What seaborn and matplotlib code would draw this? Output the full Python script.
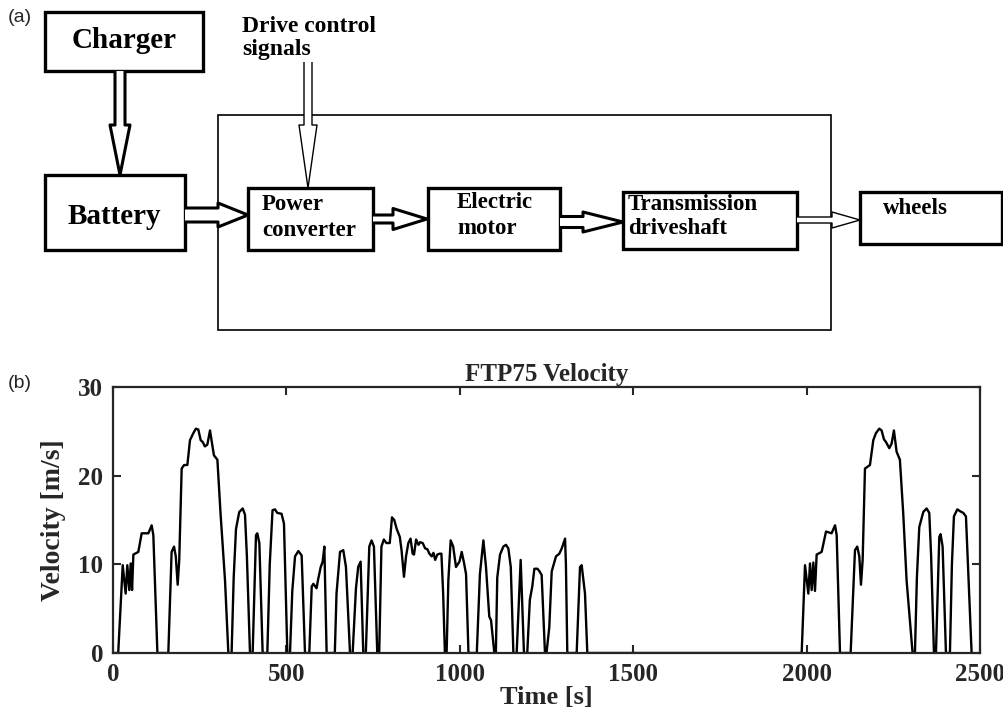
import numpy as np
import pandas as pd
import seaborn as sns
import matplotlib.pyplot as plt
from matplotlib.patches import Rectangle, Polygon

# FTP75 velocity trace (time [s], velocity [m/s])
cold_t = [0, 15, 28, 36.5, 41.3, 47, 51, 55, 58.7, 73, 82.7, 102, 111.5, 116.3, 128,
          159.5, 169, 176, 181, 186.5, 191, 198, 205, 214.4, 222, 231.7, 239, 246, 252.8,
          258.6, 265, 272, 279.7, 287.4, 291, 301, 310, 323, 332.6,
          342, 348, 354.7, 364, 374, 380.6, 386, 395,
          402.7, 412.3, 416, 422, 431.5,
          445, 452, 460, 467, 473.7, 486, 493, 502.7]
cold_v = [0, 0, 9.9, 6.7, 9.9, 7.1, 10.1, 7.1, 11.1, 11.4, 13.5, 13.5, 14.4, 13.3, 0,
          0, 11.4, 12.0, 10.9, 7.7, 10.5, 20.8, 21.2, 21.2, 24.0, 24.8, 25.3, 25.2, 24.0,
          23.8, 23.3, 23.5, 25.1, 23.2, 22.3, 21.8, 15.8, 8.2, 0,
          0, 8.5, 14.0, 15.9, 16.3, 15.6, 11.0, 0,
          0, 13.3, 13.5, 12.4, 0,
          0, 10.0, 16.1, 16.2, 15.8, 15.7, 14.6, 0]

stab_t = [510.4, 517, 524.9, 534.5, 544, 553.6,
          566, 573, 577.7, 587, 592, 599, 604.6, 609.4, 616,
          639.6, 644.5, 654.6, 664, 671.7, 683.4,
          691, 700.6, 707, 714, 721.7,
          729, 739, 745.6, 752.4, 762,
          767.6, 774, 781, 788.3, 798, 804.5, 811, 818, 827, 832, 839, 845, 851.6, 858,
          864, 868, 874, 881, 885.6, 893, 900, 906.6, 912.3, 919, 924, 929, 935, 942,
          947, 952, 957,
          962, 967, 973.7, 981, 989, 999, 1005.5, 1012, 1018, 1025,
          1049, 1058, 1068, 1075.5, 1085, 1090, 1099.6,
          1104, 1108, 1116, 1125.5, 1133, 1140, 1147, 1154.5,
          1164, 1175.5, 1181, 1185,
          1194.5, 1202, 1209, 1215, 1224, 1230, 1236, 1245.6,
          1250, 1258, 1265, 1277.4, 1287, 1294, 1303.5, 1306, 1310,
          1337, 1346.6, 1351.4, 1361, 1367.7]
stab_v = [0, 7.0, 10.9, 11.5, 11.0, 0,
          0, 7.5, 7.8, 7.3, 8.4, 9.7, 10.3, 12.0, 0,
          0, 6.7, 11.4, 11.6, 9.7, 0,
          0, 7.3, 9.7, 10.3, 0,
          0, 12.0, 12.7, 12.0, 0,
          0, 12.0, 12.8, 12.4, 12.4, 15.3, 15.0, 14.0, 13.1, 11.6, 8.6, 10.9, 12.4, 12.9,
          11.2, 11.1, 12.8, 12.2, 12.5, 12.4, 11.8, 11.7, 11.2, 10.9, 11.3, 10.5, 11.1, 11.2,
          11.2, 6.7, 0,
          0, 8.2, 12.7, 12.0, 9.7, 10.3, 11.4, 10.2, 8.9, 0,
          0, 8.9, 12.7, 9.7, 4.1, 3.7, 0,
          0, 8.5, 11.1, 12.0, 12.2, 11.8, 9.7, 0,
          0, 10.5, 4.5, 0,
          0, 6.0, 7.5, 9.5, 9.5, 9.2, 8.8, 0,
          0, 2.9, 9.2, 10.9, 11.2, 11.8, 12.9, 10.0, 0,
          0, 9.7, 9.9, 6.7, 0]

hot_t = [1985.8, 1995.4, 2005, 2009.8, 2014.6, 2019.4, 2024.2, 2029, 2043.4, 2056, 2072,
         2082, 2086.7, 2096.3,
         2127, 2139.5, 2146, 2152, 2156.8, 2161.6, 2168.3, 2182.7, 2192.3, 2200, 2209.6,
         2216.3, 2223, 2228.8, 2238.4, 2245, 2251.8, 2259.5, 2269, 2278.7, 2288.3, 2305.6,
         2312.4, 2318, 2324.9, 2336.4, 2346, 2353.7, 2359, 2367.2,
         2373, 2382.6, 2386.4, 2392.2, 2401.8,
         2413.3, 2419, 2424.8, 2434.5, 2442.2, 2451.8, 2459.5, 2475.8]
hot_v = [0, 9.9, 6.7, 10.1, 7.1, 10.2, 7.0, 11.1, 11.4, 13.7, 13.5,
         14.4, 13.3, 0,
         0, 11.6, 12.0, 10.9, 7.7, 10.5, 20.8, 21.2, 24.0, 24.8, 25.3,
         25.1, 24.1, 23.8, 23.1, 23.6, 25.1, 22.7, 21.8, 15.7, 8.2, 0,
         0, 8.5, 14.2, 15.9, 16.3, 15.8, 11.0, 0,
         0, 13.1, 13.4, 12.0, 0,
         0, 10.0, 15.4, 16.2, 16.0, 15.8, 15.4, 0]

x_ticks = [0, 500, 1000, 1500, 2000, 2500]
y_ticks = [0, 10, 20, 30]

df = pd.DataFrame({"time": cold_t + stab_t + hot_t,
                   "velocity": cold_v + stab_v + hot_v})

sns.set_style("ticks")
plt.rcParams["font.family"] = ["Liberation Serif", "DejaVu Serif"]

fig = plt.figure(figsize=(10.04, 7.11), dpi=100)

# ---- (a) block diagram, drawn in pixel coordinates ----
ad = fig.add_axes([0, 0, 1, 1])
ad.set_xlim(0, 1004)
ad.set_ylim(711, 0)
ad.axis("off")

def box(x0, y0, x1, y1, lw=2.4):
    ad.add_patch(Rectangle((x0, y0), x1 - x0, y1 - y0, fill=False, ec="black", lw=lw))

def harrow(x0, xh, x1, yc, w, hw, lw):
    pts = [(x0, yc - w), (xh, yc - w), (xh, yc - hw), (x1, yc),
           (xh, yc + hw), (xh, yc + w), (x0, yc + w)]
    ad.add_patch(Polygon(pts, closed=False, fc="white", ec="black", lw=lw, joinstyle="round"))

def varrow(y0, yh, y1, xc, w, hw, lw):
    pts = [(xc - w, y0), (xc - w, yh), (xc - hw, yh), (xc, y1),
           (xc + hw, yh), (xc + w, yh), (xc + w, y0)]
    ad.add_patch(Polygon(pts, closed=False, fc="white", ec="black", lw=lw, joinstyle="round"))

ad.add_patch(Rectangle((218, 115), 831 - 218, 330 - 115, fill=False, ec="black", lw=1.2))

box(45, 12, 203, 71)
box(45, 175, 185, 250)
box(248, 188, 373, 250)
box(428, 188, 560, 250)
box(623, 192, 797, 249)
box(860, 192, 1002, 244)

varrow(71, 125, 175, 120, 5, 10, 2.2)
varrow(62, 125, 188, 308, 4, 9, 1.0)
harrow(185, 218, 248, 215, 7, 12, 2.2)
harrow(373, 393, 427, 219, 4, 10.5, 2.2)
harrow(560, 583, 623, 222, 5.5, 10, 2.2)
harrow(797, 832, 860, 220, 3, 8, 1.0)

bold = dict(fontweight="bold", color="black")
ad.text(124, 41, "Charger", fontsize=21, ha="center", va="center", **bold)
ad.text(114, 216, "Battery", fontsize=21, ha="center", va="center", **bold)
ad.text(242, 27, "Drive control", fontsize=17, ha="left", va="center", **bold)
ad.text(242, 50, "signals", fontsize=17, ha="left", va="center", **bold)
ad.text(262, 205, "Power", fontsize=16.5, ha="left", va="center", **bold)
ad.text(262, 230, "converter", fontsize=16.5, ha="left", va="center", **bold)
ad.text(457, 203, "Electric", fontsize=16.5, ha="left", va="center", **bold)
ad.text(457, 228, "motor", fontsize=16.5, ha="left", va="center", **bold)
ad.text(628, 205, "Transmission", fontsize=16.5, ha="left", va="center", **bold)
ad.text(628, 228, "driveshaft", fontsize=16.5, ha="left", va="center", **bold)
ad.text(883, 208, "wheels", fontsize=16.5, ha="left", va="center", **bold)

ad.text(8, 18, "(a)", fontsize=14, ha="left", va="center", family="Liberation Sans")
ad.text(8, 383, "(b)", fontsize=14, ha="left", va="center", family="Liberation Sans")

# ---- (b) FTP75 velocity ----
ax = fig.add_axes([113 / 1004, 1 - 653 / 711, (980 - 113) / 1004, (653 - 387) / 711])
sns.lineplot(data=df, x="time", y="velocity", ax=ax, color="black", lw=1.7,
             estimator=None, sort=False)
ax.set_xlim(0, 2500)
ax.set_ylim(0, 30)
ax.set_xticks(x_ticks)
ax.set_yticks(y_ticks)
ax.tick_params(direction="in", top=True, right=True, length=6, width=1.5,
               labelsize=18, pad=7)
for lab in ax.get_xticklabels() + ax.get_yticklabels():
    lab.set_fontweight("bold")
for s in ax.spines.values():
    s.set_linewidth(1.6)
    s.set_visible(True)
ax.set_title("FTP75 Velocity", fontsize=18, fontweight="bold", pad=4)
ax.set_xlabel("Time [s]", fontsize=19, fontweight="bold", labelpad=0)
ax.set_ylabel("Velocity [m/s]", fontsize=20, fontweight="bold", labelpad=9)

fig.savefig("out.png", dpi=100)
